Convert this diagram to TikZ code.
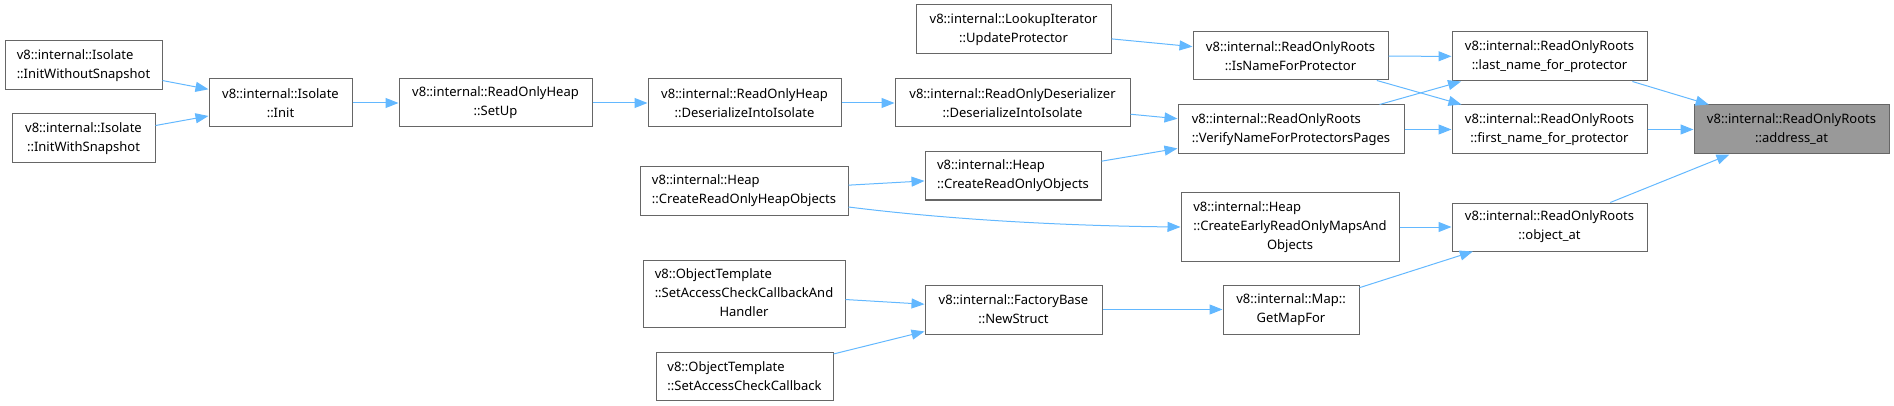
\documentclass[tikz,border=0pt]{standalone}
\usepackage{fontspec}
\setmainfont{Noto Sans}
\usetikzlibrary{arrows.meta}
\definecolor{edgeblue}{HTML}{63B8FF}
\definecolor{boxgray}{HTML}{666666}
\definecolor{curfill}{HTML}{999999}

\begin{document}
\begin{tikzpicture}[x=1pt,y=-1pt,
        fn/.style={draw=boxgray,line width=1pt,fill=white,inner sep=0pt,align=center,font=\fontsize{13}{19}\selectfont},
        cur/.style={fn,fill=curfill},
        call/.style={draw=edgeblue,line width=1pt,-{Triangle[length=13pt,width=10pt]}}]
        \useasboundingbox (0,0) rectangle (1894,406);

        % callers, left to right
        \node[fn,align=left,minimum width=157pt,minimum height=49pt] (InitWO) at (83.5,65.5) {v8::internal::Isolate\\::InitWithoutSnapshot};
        \node[fn,minimum width=143pt,minimum height=49pt] (InitW) at (83.5,138.5) {v8::internal::Isolate\\::InitWithSnapshot};
        \node[fn,minimum width=143pt,minimum height=48pt] (Init) at (280.5,103) {v8::internal::Isolate\\::Init};
        \node[fn,minimum width=193pt,minimum height=48pt] (SetUp) at (495.5,103) {v8::internal::ReadOnlyHeap\\::SetUp};
        \node[fn,minimum width=193pt,minimum height=48pt] (HeapDes) at (744.5,103) {v8::internal::ReadOnlyHeap\\::DeserializeIntoIsolate};
        \node[fn,align=left,minimum width=208pt,minimum height=48pt] (HeapObjs) at (744,191) {v8::internal::Heap\\::CreateReadOnlyHeapObjects};
        \node[fn,minimum width=202pt,minimum height=67pt] (SetAccH) at (744,293.5) {\begin{tabular}{@{}l@{}}v8::ObjectTemplate\\::SetAccessCheckCallbackAnd\\\multicolumn{1}{@{}c@{}}{Handler}\end{tabular}};
        \node[fn,align=left,minimum width=177pt,minimum height=48pt] (SetAcc) at (744.5,376) {v8::ObjectTemplate\\::SetAccessCheckCallback};
        \node[fn,minimum width=195pt,minimum height=49pt] (Lookup) at (1013.5,29.5) {v8::internal::LookupIterator\\::UpdateProtector};
        \node[fn,minimum width=235pt,minimum height=48pt] (RODes) at (1012.5,103) {v8::internal::ReadOnlyDeserializer\\::DeserializeIntoIsolate};
        \node[fn,align=left,minimum width=176pt,minimum height=48pt] (ROObjs) at (1013,176) {v8::internal::Heap\\::CreateReadOnlyObjects};
        \node[fn,minimum width=177pt,minimum height=49pt] (NewStruct) at (1013.5,309.5) {v8::internal::FactoryBase\\::NewStruct};
        \node[fn,minimum width=195pt,minimum height=48pt] (IsName) at (1290.5,56) {v8::internal::ReadOnlyRoots\\::IsNameForProtector};
        \node[fn,align=left,minimum width=226pt,minimum height=49pt] (Verify) at (1291,129.5) {v8::internal::ReadOnlyRoots\\::VerifyNameForProtectorsPages};
        \node[fn,minimum width=218pt,minimum height=68pt] (Early) at (1290,227) {\begin{tabular}{@{}l@{}}v8::internal::Heap\\::CreateEarlyReadOnlyMapsAnd\\\multicolumn{1}{@{}c@{}}{Objects}\end{tabular}};
        \node[fn,minimum width=136pt,minimum height=49pt] (GetMap) at (1291,309.5) {v8::internal::Map::\\GetMapFor};
        \node[fn,minimum width=195pt,minimum height=49pt] (Last) at (1549.5,56.5) {v8::internal::ReadOnlyRoots\\::last\_name\_for\_protector};
        \node[fn,minimum width=195pt,minimum height=49pt] (First) at (1549.5,129.5) {v8::internal::ReadOnlyRoots\\::first\_name\_for\_protector};
        \node[fn,minimum width=195pt,minimum height=48pt] (ObjAt) at (1549.5,227) {v8::internal::ReadOnlyRoots\\::object\_at};
        \node[cur,minimum width=195pt,minimum height=49pt] (AddrAt) at (1791.5,129.5) {v8::internal::ReadOnlyRoots\\::address\_at};

        % calls
        \draw[call] (InitWO) -- (Init);
        \draw[call] (InitW) -- (Init);
        \draw[call] (Init) -- (SetUp);
        \draw[call] (SetUp) -- (HeapDes);
        \draw[call] (HeapDes) -- (RODes);
        \draw[call] (HeapObjs) -- (ROObjs);
        \draw[call] ([yshift=-16pt]HeapObjs.east) .. controls (960,221) and (1080,226) .. (Early.west);
        \draw[call] (SetAccH) -- (NewStruct);
        \draw[call] (SetAcc) -- (NewStruct);
        \draw[call] (Lookup) -- (IsName);
        \draw[call] (RODes) -- (Verify);
        \draw[call] (ROObjs) -- (Verify);
        \draw[call] (NewStruct) -- (GetMap);
        \draw[call] (IsName) -- (Last);
        \draw[call] (IsName) -- (First);
        \draw[call] (Verify) -- (Last);
        \draw[call] (Verify) -- (First);
        \draw[call] (Early) -- (ObjAt);
        \draw[call] (GetMap) -- (ObjAt);
        \draw[call] (Last) -- (AddrAt);
        \draw[call] (First) -- (AddrAt);
        \draw[call] (ObjAt) -- (AddrAt);
    \end{tikzpicture}
\end{document}
